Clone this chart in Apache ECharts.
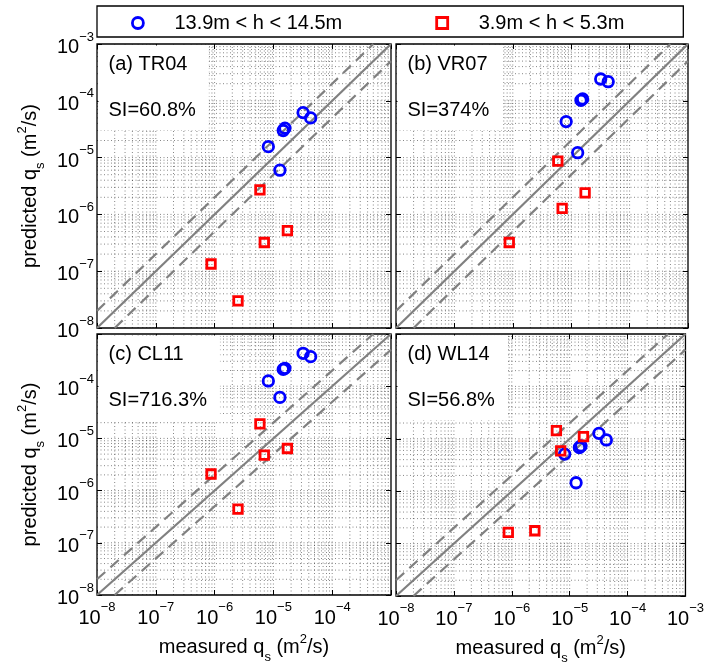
<!DOCTYPE html>
<html><head><meta charset="utf-8">
<script src="https://cdn.jsdelivr.net/npm/echarts@6/dist/echarts.min.js"></script>
<style>html,body{margin:0;padding:0;background:#fff}#c{width:707px;height:666px}</style>
</head><body><div id="c"></div>
<script>
// ---------- data ----------
const panelNames = ['(a) TR04', '(b) VR07', '(c) CL11', '(d) WL14'];
const siLabels = ['SI=60.8%', 'SI=374%', 'SI=716.3%', 'SI=56.8%'];
const seriesNames = ['13.9m < h < 14.5m', '3.9m < h < 5.3m'];

const measuredHigh = [3.2e-5, 4.3e-5, 1.57e-5, 1.47e-5, 8.2e-6, 1.29e-5];
const predHighA = [6.2e-5, 5.0e-5, 3.3e-5, 3.0e-5, 1.56e-5, 6.0e-6];
const predHighB = [2.42e-4, 2.17e-4, 1.08e-4, 1.02e-4, 4.3e-5, 1.22e-5];
const predHighC = [4.27e-4, 3.68e-4, 2.2e-4, 2.1e-4, 1.26e-4, 6.1e-5];
const predHighD = [1.27e-5, 9.5e-6, 7.3e-6, 6.8e-6, 5.1e-6, 1.45e-6];

const measuredLow = [5.9e-6, 1.73e-5, 7.0e-6, 8.7e-7, 2.5e-6];
const predLowA = [2.7e-6, 5.2e-7, 3.2e-7, 1.34e-7, 3.0e-8];
const predLowB = [8.7e-6, 2.4e-6, 1.28e-6, 3.2e-7, null];
const predLowC = [1.89e-5, 6.4e-6, 4.8e-6, 2.08e-6, 4.4e-7];
const predLowD = [1.43e-5, 1.1e-5, 5.9e-6, 1.64e-7, 1.76e-7];

const axisMin = 1e-8, axisMax = 1e-3;
const factor = 2;

// ---------- layout ----------
const FONT = "'Liberation Sans', Arial, Helvetica, sans-serif";
const panels = [
  {left: 97, top: 44, width: 294, height: 284},
  {left: 396, top: 44, width: 292, height: 284},
  {left: 97, top: 334, width: 294, height: 261},
  {left: 396, top: 334, width: 292, height: 262}
];
const predHigh = [predHighA, predHighB, predHighC, predHighD];
const predLow = [predLowA, predLowB, predLowC, predLowD];

// grid line positions (MATLAB-like log grid: 1..9 x 10^k)
const gridVals = [];
for (let k = -8; k <= -4; k++) for (let m = 1; m <= 9; m++) {
  if (k === -8 && m === 1) continue;
  gridVals.push(m * Math.pow(10, k));
}

const labelRich = {
  b: {fontSize: 20, lineHeight: 20, verticalAlign: 'bottom', fontFamily: FONT, color: '#000'},
  s: {fontSize: 13, lineHeight: 27, verticalAlign: 'top', padding: [0, 0, 14, 0], fontFamily: FONT, color: '#000'}
};
const nameRich = {
  n: {fontSize: 20, lineHeight: 20, verticalAlign: 'middle', fontFamily: FONT, color: '#000'},
  sub: {fontSize: 13, lineHeight: 33, verticalAlign: 'bottom', padding: [20, 0, 0, 0], fontFamily: FONT, color: '#000'},
  sup: {fontSize: 13, lineHeight: 29, verticalAlign: 'top', padding: [2, 0, 14, 0], fontFamily: FONT, color: '#000'}
};
function expLabel(hideTop) {
  return function (v) {
    const e = Math.round(Math.log10(v));
    if (hideTop && e === -3) return '';
    return '{b|10}{s|' + (e < 0 ? '\u2212' : '') + Math.abs(e) + '}';
  };
}
const measuredName = '{n|measured q}{sub|s}{n| (m}{sup|2}{n|/s)}';
const predictedName = '{n|predicted q}{sub|s}{n| (m}{sup|2}{n|/s)}';

const gridStyle = {stroke: 'rgba(0,0,0,0.6)', lineWidth: 0.8, lineDash: [1, 2.5]};

const grids = [], xAxes = [], yAxes = [], series = [], graphics = [];
panels.forEach((p, i) => {
  grids.push({left: p.left, top: p.top, width: p.width, height: p.height, show: true,
    borderColor: '#000', borderWidth: 1.3, backgroundColor: 'transparent'});
  const isBottom = i >= 2, isLeft = i % 2 === 0;
  const base = {type: 'log', logBase: 10, min: axisMin, max: axisMax, gridIndex: i,
    splitNumber: 5, splitLine: {show: false}, axisLine: {show: false},
    axisTick: {show: true, inside: true, length: 5, lineStyle: {color: '#000', width: 1}}};
  xAxes.push(Object.assign({}, base, {
    position: 'bottom',
    axisLabel: {show: isBottom, margin: 6, formatter: expLabel(i === 2), rich: labelRich, color: '#000'},
    name: isBottom ? measuredName : '', nameLocation: 'middle', nameGap: 36,
    nameTextStyle: {rich: nameRich, color: '#000'}
  }));
  xAxes.push(Object.assign({}, base, {position: 'top', axisLabel: {show: false}}));
  yAxes.push(Object.assign({}, base, {
    position: 'left',
    axisLabel: {show: isLeft, margin: 3, formatter: expLabel(i === 2), rich: labelRich, color: '#000'},
    name: isLeft ? predictedName : '', nameLocation: 'middle', nameGap: 50, nameRotate: 90,
    nameTextStyle: {rich: nameRich, color: '#000'}
  }));
  yAxes.push(Object.assign({}, base, {position: 'right', axisLabel: {show: false}}));

  const xi = 2 * i, yi = 2 * i;
  // vertical grid lines
  series.push({type: 'custom', xAxisIndex: xi, yAxisIndex: yi, silent: true, z: 1, clip: true,
    data: gridVals.map(v => [v, axisMin]),
    renderItem: (params, api) => {
      const a = api.coord([api.value(0), axisMin]), b = api.coord([api.value(0), axisMax]);
      return {type: 'line', shape: {x1: a[0], y1: a[1], x2: b[0], y2: b[1]}, style: gridStyle};
    }});
  // horizontal grid lines
  series.push({type: 'custom', xAxisIndex: xi, yAxisIndex: yi, silent: true, z: 1, clip: true,
    data: gridVals.map(v => [axisMin, v]),
    renderItem: (params, api) => {
      const a = api.coord([axisMin, api.value(1)]), b = api.coord([axisMax, api.value(1)]);
      return {type: 'line', shape: {x1: a[0], y1: a[1], x2: b[0], y2: b[1]}, style: gridStyle};
    }});
  series.push({type: 'line', xAxisIndex: xi, yAxisIndex: yi, silent: true, z: 3, symbol: 'none',
    data: [[axisMin, axisMin], [axisMax, axisMax]],
    lineStyle: {color: '#808080', width: 2.2}});
  series.push({type: 'line', xAxisIndex: xi, yAxisIndex: yi, silent: true, z: 3, symbol: 'none',
    data: [[axisMin, axisMin * factor], [axisMax / factor, axisMax]],
    lineStyle: {color: '#808080', width: 2.2, type: [11, 7]}});
  series.push({type: 'line', xAxisIndex: xi, yAxisIndex: yi, silent: true, z: 3, symbol: 'none',
    data: [[axisMin * factor, axisMin], [axisMax, axisMax / factor]],
    lineStyle: {color: '#808080', width: 2.2, type: [11, 7]}});
  series.push({type: 'scatter', name: seriesNames[0], xAxisIndex: xi, yAxisIndex: yi, z: 5,
    symbol: 'circle', symbolSize: 10.5,
    itemStyle: {color: 'rgba(255,255,255,0)', borderColor: '#0000ff', borderWidth: 2.8, opacity: 1},
    data: measuredHigh.map((x, k) => [x, predHigh[i][k]]).filter(d => d[1] != null)});
  series.push({type: 'scatter', name: seriesNames[1], xAxisIndex: xi, yAxisIndex: yi, z: 5,
    symbol: 'rect', symbolSize: 8.5,
    itemStyle: {color: 'rgba(255,255,255,0)', borderColor: '#ff0000', borderWidth: 2.8, opacity: 1},
    data: measuredLow.map((x, k) => [x, predLow[i][k]]).filter(d => d[1] != null)});

  graphics.push({type: 'text', left: p.left + 1.5, top: p.top + 1.5, z: 100,
    style: {text: panelNames[i] + '\n\n' + siLabels[i], fontSize: 20, fontFamily: FONT,
      lineHeight: 23, fill: '#000', backgroundColor: '#fff', padding: [7, 13, 9, 10]}});
});

const chart = echarts.init(document.getElementById('c'), null, {renderer: 'canvas'});
chart.setOption({
  animation: false,
  backgroundColor: '#fff',
  textStyle: {fontFamily: FONT},
  grid: grids, xAxis: xAxes, yAxis: yAxes, series: series,
  graphic: graphics,
  legend: {
    data: seriesNames, left: 97, top: 6, orient: 'horizontal',
    borderColor: '#000', borderWidth: 1.3, backgroundColor: '#fff',
    padding: [7, 59, 4, 34], itemGap: 93, itemWidth: 11, itemHeight: 11,
    selectedMode: false,
    itemStyle: {borderWidth: 2.8, opacity: 1},
    formatter: n => '{g| }{t|' + n + '}',
    textStyle: {rich: {g: {width: 26, fontSize: 20}, t: {fontSize: 20, lineHeight: 20, fontFamily: FONT, color: '#000'}}}
  }
});
</script></body></html>
